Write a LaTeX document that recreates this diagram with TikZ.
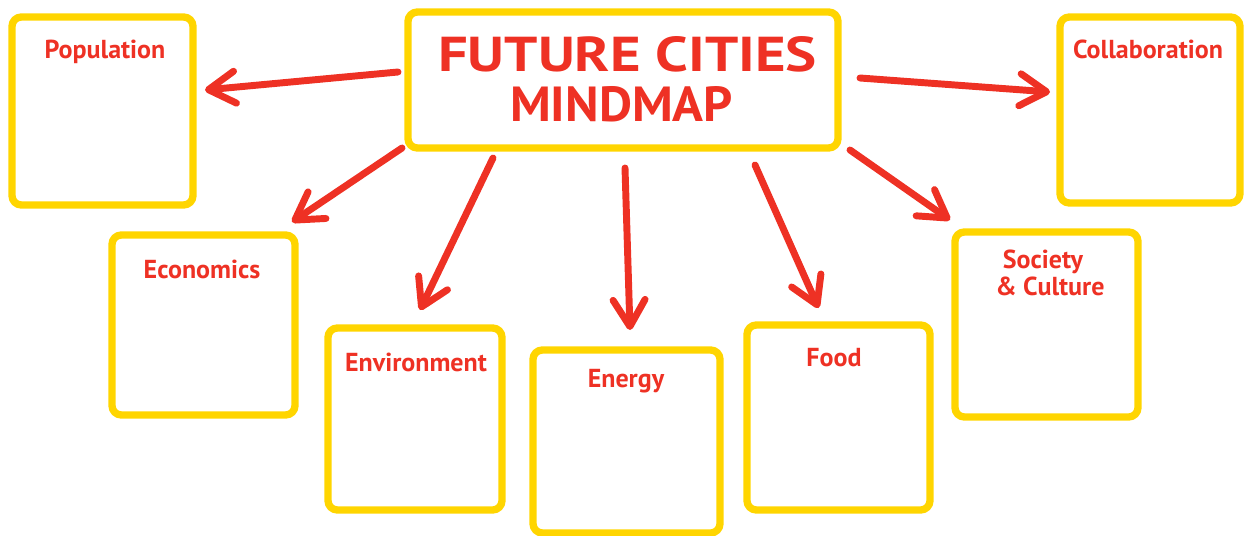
\documentclass[tikz,border=0pt]{standalone}
\usepackage{fontspec}
\usepackage{graphicx}
\setmainfont{PT Sans}
\usetikzlibrary{arrows.meta}
\definecolor{mmyellow}{HTML}{FFD500}
\definecolor{mmred}{HTML}{EE3124}
\begin{document}
\begin{tikzpicture}[x=0.75pt,y=-0.75pt,
  box/.style={draw=mmyellow, line width=5.5pt, rectangle, inner sep=0pt, outer sep=0pt,
    rounded corners=7pt, line join=round},
  lbl/.style={text=mmred, font=\bfseries\fontsize{19.5}{22}\selectfont, inner sep=0pt, anchor=base},
  ttl/.style={text=mmred, font=\bfseries, inner sep=0pt, anchor=south},
  arr/.style={draw=mmred, line width=5.2pt, line cap=round, line join=round,
    -{Straight Barb[length=20pt,width=24pt,round]}},
]
\useasboundingbox (0,0) rectangle (1244,535);

% boxes
\node[box, minimum width=322.5pt, minimum height=102pt] (main) at (623,80) {};
\node[box, minimum width=135.75pt, minimum height=141pt] (pop) at (102.5,111) {};
\node[box, minimum width=135pt, minimum height=139.5pt] (collab) at (1150,110) {};
\node[box, minimum width=137.25pt, minimum height=135pt] (econ) at (203.5,325) {};
\node[box, minimum width=130.5pt, minimum height=136.5pt] (env) at (415,419) {};
\node[box, minimum width=140.25pt, minimum height=137.25pt] (energy) at (626.5,441.5) {};
\node[box, minimum width=137.25pt, minimum height=138.75pt] (food) at (838.5,417.5) {};
\node[box, minimum width=137.25pt, minimum height=138.75pt] (soc) at (1046.5,324.5) {};

% title
\node[ttl] (t1) at (627.5,72) {\resizebox{284pt}{26.25pt}{FUTURE CITIES}};
\node[ttl] (t2) at (621.5,122) {\resizebox{167pt}{26.25pt}{MINDMAP}};

% labels
\node[lbl] (lpop) at (105,59) {Population};
\node[lbl] (lcollab) at (1148,59) {Collaboration};
\node[lbl] (lecon) at (202,278) {Economics};
\node[lbl] (lenv) at (416,371) {Environment};
\node[lbl] (lenergy) at (626,387) {Energy};
\node[lbl] (lfood) at (834,366) {Food};
\node[lbl] (lsoc1) at (1043,268) {Society};
\node[lbl] (lsoc2) at (1050,295) {\& Culture};

% arrows
\draw[arr] ([shift={(-10,-8)}]main.west) -- ([shift={(12,-21)}]pop.east);
\draw[arr] ([shift={(22,-2)}]main.east) -- ([shift={(-10,-18)}]collab.west);
\draw[arr] ([shift={(-6,0)}]main.south west) -- ([shift={(-3,-13)}]econ.north east);
\draw[arr] ([shift={(-130,10)}]main.south) -- ([shift={(5,-18)}]env.north);
\draw[arr] ([shift={(2,20)}]main.south) -- ([shift={(3.5,-20)}]energy.north);
\draw[arr] ([shift={(132,17)}]main.south) -- ([shift={(-20,-17)}]food.north);
\draw[arr] ([shift={(12,2)}]main.south east) -- ([shift={(-5,-12)}]soc.north west);
\end{tikzpicture}
\end{document}
